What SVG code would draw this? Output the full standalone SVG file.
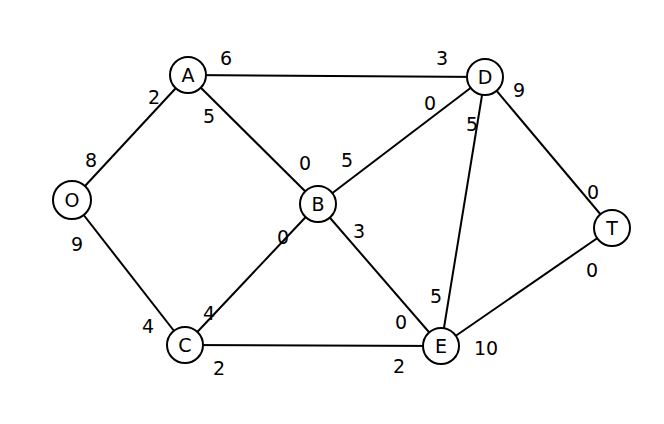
<svg xmlns="http://www.w3.org/2000/svg" width="664" height="424" viewBox="0 0 664 424">
<style>
.n{fill:#fff;stroke:#000;stroke-width:2}
text{font-family:"DejaVu Sans",sans-serif;font-size:19px;fill:#000;text-anchor:middle;dominant-baseline:central}
.e{stroke:#000;stroke-width:2}
</style>
<rect width="664" height="424" fill="#fff"/>
<g id="edges">
<line class="e" x1="72" y1="200" x2="188" y2="75"/>
<line class="e" x1="72" y1="200" x2="185" y2="345"/>
<line class="e" x1="188" y1="75" x2="485" y2="77"/>
<line class="e" x1="188" y1="75" x2="318" y2="204"/>
<line class="e" x1="485" y1="77" x2="318" y2="204"/>
<line class="e" x1="485" y1="77" x2="612" y2="228"/>
<line class="e" x1="485" y1="77" x2="441" y2="346"/>
<line class="e" x1="318" y1="204" x2="185" y2="345"/>
<line class="e" x1="318" y1="204" x2="441" y2="346"/>
<line class="e" x1="185" y1="345" x2="441" y2="346"/>
<line class="e" x1="441" y1="346" x2="612" y2="228"/>
</g>
<g id="labels">
<text x="226" y="58">6</text><text x="154" y="97">2</text><text x="209" y="116">5</text>
<text x="442" y="58">3</text><text x="519" y="90">9</text><text x="430" y="103">0</text><text x="472" y="124">5</text>
<text x="91" y="160">8</text><text x="305" y="163">0</text><text x="347" y="160">5</text>
<text x="77" y="244">9</text><text x="283" y="237">0</text><text x="359" y="231">3</text>
<text x="593" y="192">0</text><text x="592" y="270">0</text>
<text x="148" y="326">4</text><text x="209" y="313">4</text><text x="436" y="296">5</text><text x="401" y="322">0</text>
<text x="486" y="348">10</text><text x="219" y="368">2</text><text x="399" y="366">2</text>
</g>
<g id="O"><circle class="n" cx="72" cy="200" r="19"/><text x="72" y="200">O</text></g>
<g id="A"><circle class="n" cx="188" cy="75" r="18"/><text x="188" y="75">A</text></g>
<g id="D"><circle class="n" cx="485" cy="77" r="18"/><text x="485" y="77">D</text></g>
<g id="B"><circle class="n" cx="318" cy="204" r="18"/><text x="318" y="204">B</text></g>
<g id="T"><circle class="n" cx="612" cy="228" r="18"/><text x="612" y="228">T</text></g>
<g id="C"><circle class="n" cx="185" cy="345" r="18"/><text x="185" y="345">C</text></g>
<g id="E"><circle class="n" cx="441" cy="346" r="18"/><text x="441" y="346">E</text></g>
</svg>
